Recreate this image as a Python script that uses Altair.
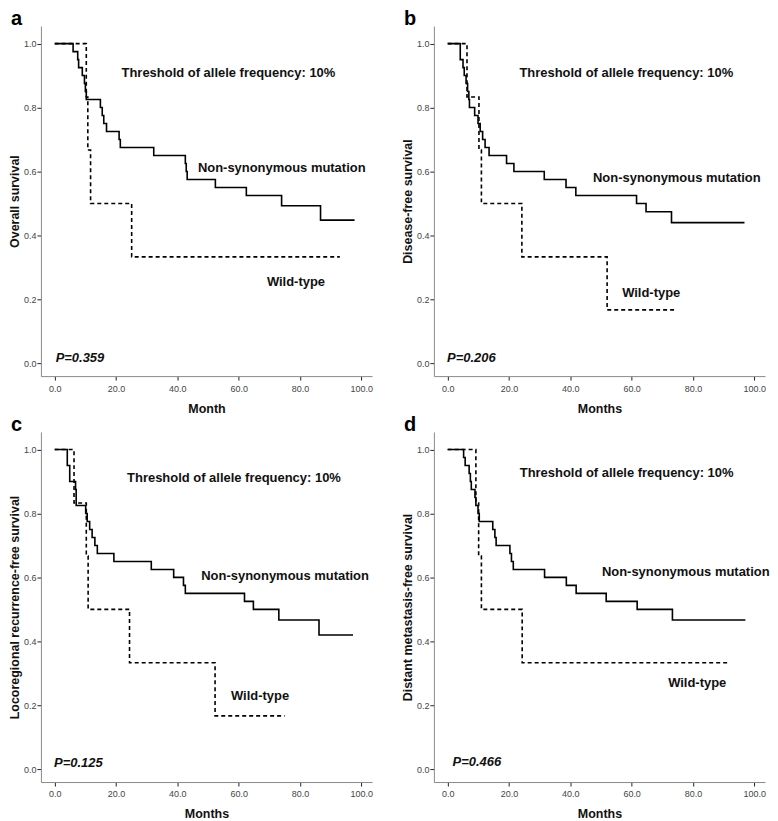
import altair as alt
import pandas as pd

FONT = "Liberation Sans"

# ---------------- data ----------------
# Panel a: Overall survival
A_MUT_T = [0, 6.0, 7.5, 7.8, 9.0, 9.7, 10.0, 10.3, 14.9, 15.5, 16.0, 16.9, 21.0, 21.4, 32.3, 42.6, 42.9, 43.2, 52.4, 62.5, 74.0, 86.7, 97.8]
A_MUT_S = [1.0, 0.975, 0.95, 0.925, 0.9, 0.875, 0.85, 0.825, 0.8, 0.775, 0.75, 0.725, 0.7, 0.675, 0.65, 0.625, 0.6, 0.575, 0.55, 0.525, 0.493, 0.448, 0.448]
A_WT_T = [0, 10.3, 10.8, 11.7, 25.1, 93.0]
A_WT_S = [1.0, 0.833, 0.667, 0.5, 0.333, 0.333]

# Panel b: Disease-free survival
B_MUT_T = [0, 4.1, 5.0, 5.4, 6.0, 6.5, 6.9, 7.1, 8.8, 9.9, 10.6, 11.4, 12.2, 13.5, 19.2, 21.6, 31.5, 38.6, 41.8, 61.6, 64.7, 73.0, 96.8]
B_MUT_S = [1.0, 0.95, 0.925, 0.9, 0.875, 0.85, 0.825, 0.8, 0.775, 0.75, 0.725, 0.7, 0.675, 0.65, 0.625, 0.6, 0.575, 0.55, 0.525, 0.5, 0.474, 0.44, 0.44]
B_WT_T = [0, 6.3, 10.2, 11.0, 24.2, 52.0, 74.6]
B_WT_S = [1.0, 0.833, 0.667, 0.5, 0.333, 0.167, 0.167]

# Panel c: Locoregional recurrence-free survival
C_MUT_T = [0, 4.1, 4.9, 6.8, 7.0, 10.1, 10.6, 11.4, 12.2, 13.1, 13.9, 19.3, 31.5, 38.8, 42.0, 42.6, 61.9, 64.8, 73.1, 86.2, 97.3]
C_MUT_S = [1.0, 0.95, 0.9, 0.875, 0.825, 0.8, 0.775, 0.75, 0.725, 0.7, 0.675, 0.65, 0.625, 0.6, 0.575, 0.55, 0.525, 0.5, 0.467, 0.42, 0.42]
C_WT_T = [0, 6.3, 10.3, 10.9, 24.4, 52.3, 75.0]
C_WT_S = [1.0, 0.833, 0.667, 0.5, 0.333, 0.167, 0.167]

# Panel d: Distant metastasis-free survival
D_MUT_T = [0, 5.2, 5.7, 7.0, 7.4, 7.7, 8.9, 9.2, 9.9, 10.3, 14.7, 15.4, 15.8, 20.3, 20.8, 21.4, 31.6, 38.7, 41.9, 51.7, 61.8, 73.3, 97.1]
D_MUT_S = [1.0, 0.975, 0.95, 0.925, 0.9, 0.875, 0.85, 0.825, 0.8, 0.775, 0.75, 0.725, 0.7, 0.675, 0.65, 0.625, 0.6, 0.575, 0.55, 0.525, 0.5, 0.467, 0.467]
D_WT_T = [0, 9.2, 10.1, 11.0, 24.3, 92.1]
D_WT_S = [1.0, 0.833, 0.667, 0.5, 0.333, 0.333]

LETTERS = ["a", "b", "c", "d"]
Y_TITLES = ["Overall survival", "Disease-free survival",
            "Locoregional recurrence-free survival", "Distant metastasis-free survival"]
X_TITLES = ["Month", "Months", "Months", "Months"]
P_VALUES = ["P=0.359", "P=0.206", "P=0.125", "P=0.466"]
THRESHOLD_LABEL = "Threshold of allele frequency: 10%"
MUT_LABEL = "Non-synonymous mutation"
WT_LABEL = "Wild-type"

# label anchor positions (month, survival) for each panel
THR_POS = [(21.8, 0.909), (23.4, 0.909), (23.6, 0.912), (23.5, 0.927)]
MUT_POS = [(46.7, 0.612), (47.4, 0.581), (47.8, 0.604), (50.3, 0.617)]
WT_POS = [(69.2, 0.253), (56.9, 0.219), (57.5, 0.228), (71.9, 0.270)]
P_POS = [(0.3, 0.018), (-0.2, 0.018), (-0.2, 0.021), (1.6, 0.023)]

X_TICKS = [0, 20, 40, 60, 80, 100]
Y_TICKS = [0.0, 0.2, 0.4, 0.6, 0.8, 1.0]

MUT = [(A_MUT_T, A_MUT_S), (B_MUT_T, B_MUT_S), (C_MUT_T, C_MUT_S), (D_MUT_T, D_MUT_S)]
WT = [(A_WT_T, A_WT_S), (B_WT_T, B_WT_S), (C_WT_T, C_WT_S), (D_WT_T, D_WT_S)]

W, H = 332, 351


def panel(i):
    xs = alt.Scale(domain=[-4.5, 103.5], nice=False, zero=False)
    ys = alt.Scale(domain=[-0.04, 1.055], nice=False, zero=False)
    xenc = alt.X("t:Q", scale=xs,
                 axis=alt.Axis(values=X_TICKS, format=".1f", title=X_TITLES[i]))
    yenc = alt.Y("s:Q", scale=ys,
                 axis=alt.Axis(values=Y_TICKS, format=".1f", title=Y_TITLES[i]))

    mut = pd.DataFrame({"t": MUT[i][0], "s": MUT[i][1]})
    wt = pd.DataFrame({"t": WT[i][0], "s": WT[i][1]})

    mut_line = alt.Chart(mut).mark_line(
        interpolate="step-after", color="black", strokeWidth=1.6
    ).encode(x=xenc, y=yenc)
    wt_line = alt.Chart(wt).mark_line(
        interpolate="step-after", color="black", strokeWidth=1.6, strokeDash=[4, 3]
    ).encode(x="t:Q", y="s:Q")

    labels = pd.DataFrame({
        "t": [THR_POS[i][0], MUT_POS[i][0], WT_POS[i][0]],
        "s": [THR_POS[i][1], MUT_POS[i][1], WT_POS[i][1]],
        "label": [THRESHOLD_LABEL, MUT_LABEL, WT_LABEL],
    })
    lab = alt.Chart(labels).mark_text(
        align="left", baseline="middle", fontWeight="bold", fontSize=13,
        font=FONT, color="#111"
    ).encode(x="t:Q", y="s:Q", text="label:N")

    pdf = pd.DataFrame({"t": [P_POS[i][0]], "s": [P_POS[i][1]], "label": [P_VALUES[i]]})
    ptxt = alt.Chart(pdf).mark_text(
        align="left", baseline="middle", fontWeight="bold", fontStyle="italic",
        fontSize=13, font=FONT, color="#111"
    ).encode(x="t:Q", y="s:Q", text="label:N")

    ldf = pd.DataFrame({"label": [LETTERS[i]]})
    letter = alt.Chart(ldf).mark_text(
        align="left", baseline="alphabetic", fontWeight="bold", fontSize=20,
        font=FONT, color="black"
    ).encode(x=alt.value(-30), y=alt.value(-1), text="label:N")

    return alt.layer(mut_line, wt_line, lab, ptxt, letter).properties(
        width=W, height=H,
    )


row1 = alt.hconcat(panel(0), panel(1), spacing=28)
row2 = alt.hconcat(panel(2), panel(3), spacing=28)
chart = alt.vconcat(row1, row2, spacing=0).configure_view(
    stroke=None
).configure_axis(
    grid=False,
    domainColor="#8a8a8a",
    domainWidth=1,
    tickColor="#222",
    tickSize=4,
    labelFont=FONT,
    labelFontSize=9,
    labelColor="#444",
    titleFont=FONT,
    titleFontSize=12.5,
    titleFontWeight="bold",
    titleColor="#111",
).configure_axisX(
    titlePadding=9, labelPadding=4
).configure_axisY(
    titlePadding=2, labelPadding=1
).properties(background="white", padding=0)

chart.save("out.html", embed_options={"renderer": "svg", "actions": False})
